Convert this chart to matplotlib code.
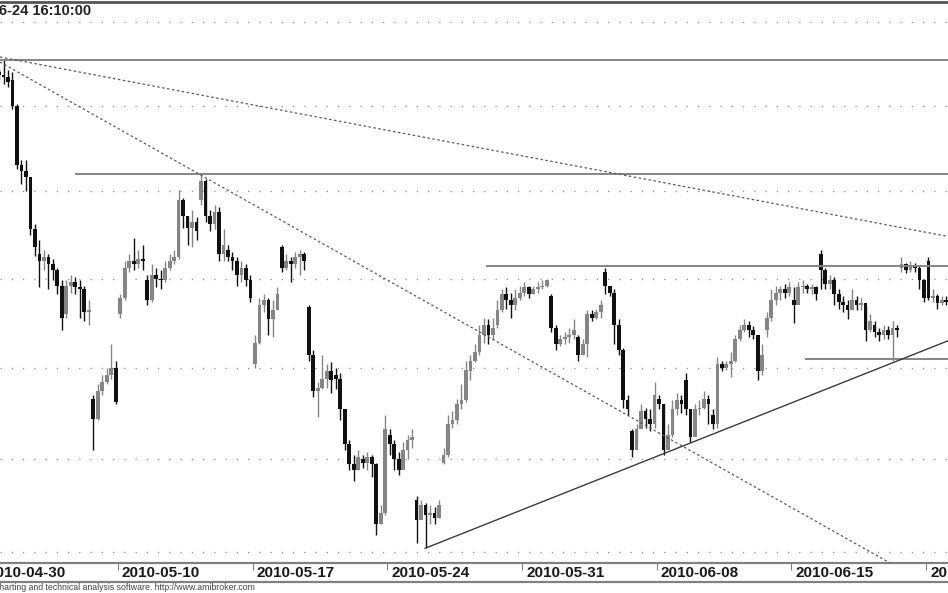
import numpy as np
import matplotlib
matplotlib.use('Agg')
import matplotlib.pyplot as plt
from matplotlib.lines import Line2D
from matplotlib.ticker import NullLocator, FixedLocator
import matplotlib.transforms as mtransforms

plt.rcParams['font.family'] = ['Liberation Sans', 'DejaVu Sans']

# trading days shown on the chart (6 bars per day)
days = ['2010-04-30', '2010-05-04', '2010-05-05', '2010-05-06', '2010-05-07',
        '2010-05-10', '2010-05-11', '2010-05-12', '2010-05-13', '2010-05-14',
        '2010-05-17', '2010-05-18', '2010-05-19', '2010-05-20', '2010-05-21',
        '2010-05-24', '2010-05-25', '2010-05-26', '2010-05-27', '2010-05-28',
        '2010-05-31', '2010-06-01', '2010-06-02', '2010-06-04', '2010-06-07',
        '2010-06-08', '2010-06-09', '2010-06-10', '2010-06-11', '2010-06-14',
        '2010-06-15', '2010-06-16', '2010-06-17', '2010-06-18', '2010-06-21',
        '2010-06-22']
label_days = [0, 5, 10, 15, 20, 25, 30, 35]

day_open = [2462, 2465, 2364, 2330, 2283, 2330, 2349, 2360, 2395, 2366,
            2302, 2368, 2334, 2296, 2250, 2263, 2228, 2248, 2298, 2324,
            2342, 2340, 2317, 2354, 2265, 2283, 2293, 2274, 2316, 2321,
            2338, 2364, 2335, 2324, 2356, 2360]

closes = [
    [2465, 2468, 2470, 2468, 2467, 2464],
    [2450, 2415, 2412, 2408, 2378, 2368],
    [2360, 2362, 2358, 2355, 2346, 2328],
    [2346, 2348, 2345, 2344, 2331, 2332],
    [2272, 2287, 2292, 2296, 2300, 2281],
    [2339, 2356, 2360, 2358, 2361, 2360],
    [2338, 2352, 2350, 2349, 2356, 2360],
    [2362, 2395, 2386, 2379, 2382, 2377],
    [2406, 2386, 2381, 2388, 2364, 2369],
    [2362, 2360, 2352, 2356, 2349, 2339],
    [2314, 2335, 2338, 2327, 2332, 2341],
    [2356, 2360, 2358, 2362, 2364, 2360],
    [2307, 2287, 2289, 2294, 2298, 2293],
    [2294, 2277, 2258, 2247, 2244, 2251],
    [2248, 2251, 2247, 2215, 2221, 2266],
    [2258, 2250, 2244, 2255, 2260, 2262],
    [2217, 2225, 2220, 2221, 2218, 2225],
    [2252, 2269, 2271, 2280, 2282, 2299],
    [2304, 2309, 2318, 2324, 2318, 2322],
    [2332, 2341, 2338, 2335, 2339, 2342],
    [2345, 2341, 2344, 2345, 2346, 2349],
    [2322, 2313, 2316, 2317, 2318, 2321],
    [2307, 2313, 2330, 2328, 2331, 2335],
    [2346, 2342, 2324, 2310, 2282, 2277],
    [2255, 2266, 2276, 2272, 2269, 2285],
    [2280, 2255, 2263, 2277, 2282, 2280],
    [2277, 2262, 2277, 2278, 2283, 2280],
    [2269, 2302, 2300, 2302, 2304, 2316],
    [2321, 2324, 2321, 2318, 2298, 2307],
    [2328, 2338, 2342, 2344, 2342, 2345],
    [2335, 2345, 2346, 2344, 2345, 2341],
    [2355, 2347, 2349, 2341, 2337, 2335],
    [2332, 2338, 2335, 2336, 2321, 2326],
    [2320, 2318, 2321, 2318, 2322, 2321],
    [2358, 2355, 2357, 2356, 2349, 2339],
    [2339, 2340, 2336, 2338, 2337, 2338],
]

highs = [
    [2468, 2471, 2474, 2472, 2477, 2471],
    [2470, 2451, 2418, 2418, 2404, 2381],
    [2372, 2366, 2364, 2361, 2356, 2349],
    [2349, 2352, 2351, 2349, 2346, 2338],
    [2285, 2291, 2296, 2300, 2313, 2304],
    [2341, 2360, 2364, 2373, 2366, 2369],
    [2352, 2358, 2356, 2355, 2360, 2364],
    [2366, 2401, 2396, 2386, 2389, 2385],
    [2410, 2407, 2389, 2392, 2391, 2378],
    [2369, 2365, 2362, 2360, 2358, 2352],
    [2318, 2339, 2341, 2339, 2338, 2345],
    [2369, 2364, 2362, 2365, 2366, 2365],
    [2335, 2310, 2292, 2307, 2302, 2303],
    [2300, 2297, 2277, 2260, 2252, 2255],
    [2252, 2254, 2252, 2248, 2225, 2274],
    [2266, 2260, 2254, 2259, 2263, 2266],
    [2230, 2228, 2226, 2225, 2224, 2228],
    [2256, 2274, 2276, 2283, 2291, 2304],
    [2307, 2313, 2324, 2328, 2327, 2328],
    [2338, 2344, 2345, 2342, 2344, 2346],
    [2348, 2346, 2346, 2348, 2349, 2350],
    [2341, 2324, 2318, 2320, 2322, 2327],
    [2318, 2316, 2332, 2332, 2333, 2338],
    [2356, 2346, 2344, 2327, 2311, 2285],
    [2266, 2269, 2280, 2278, 2277, 2292],
    [2285, 2280, 2269, 2282, 2286, 2285],
    [2297, 2277, 2280, 2282, 2287, 2285],
    [2277, 2306, 2304, 2304, 2309, 2318],
    [2324, 2327, 2326, 2323, 2318, 2313],
    [2331, 2344, 2346, 2346, 2347, 2348],
    [2345, 2348, 2349, 2347, 2347, 2346],
    [2366, 2356, 2352, 2351, 2344, 2340],
    [2338, 2344, 2340, 2339, 2335, 2330],
    [2326, 2322, 2324, 2323, 2326, 2324],
    [2362, 2359, 2360, 2359, 2357, 2350],
    [2362, 2344, 2341, 2340, 2340, 2341],
]

lows = [
    [2460, 2464, 2466, 2465, 2463, 2461],
    [2448, 2413, 2404, 2400, 2375, 2363],
    [2345, 2355, 2344, 2349, 2341, 2321],
    [2328, 2342, 2341, 2328, 2326, 2324],
    [2255, 2271, 2285, 2291, 2294, 2280],
    [2328, 2338, 2354, 2355, 2356, 2355],
    [2335, 2337, 2345, 2344, 2348, 2355],
    [2358, 2361, 2379, 2369, 2368, 2372],
    [2392, 2382, 2377, 2378, 2360, 2360],
    [2360, 2355, 2346, 2348, 2346, 2337],
    [2300, 2313, 2331, 2318, 2317, 2335],
    [2354, 2355, 2348, 2356, 2352, 2355],
    [2304, 2284, 2273, 2288, 2289, 2286],
    [2288, 2271, 2255, 2244, 2238, 2244],
    [2245, 2244, 2240, 2209, 2215, 2220],
    [2252, 2244, 2241, 2247, 2250, 2256],
    [2205, 2220, 2202, 2215, 2215, 2218],
    [2247, 2251, 2267, 2269, 2277, 2281],
    [2293, 2303, 2307, 2314, 2313, 2316],
    [2322, 2331, 2333, 2328, 2332, 2338],
    [2340, 2339, 2341, 2342, 2344, 2345],
    [2320, 2310, 2312, 2313, 2314, 2316],
    [2304, 2309, 2306, 2326, 2327, 2328],
    [2341, 2340, 2313, 2307, 2278, 2274],
    [2251, 2258, 2270, 2267, 2265, 2267],
    [2277, 2252, 2259, 2262, 2274, 2275],
    [2274, 2259, 2271, 2274, 2277, 2269],
    [2266, 2267, 2298, 2299, 2295, 2303],
    [2315, 2320, 2317, 2316, 2293, 2296],
    [2317, 2326, 2335, 2338, 2339, 2340],
    [2325, 2338, 2342, 2342, 2341, 2338],
    [2344, 2344, 2344, 2335, 2333, 2331],
    [2327, 2336, 2332, 2332, 2315, 2320],
    [2317, 2315, 2316, 2316, 2304, 2317],
    [2354, 2353, 2354, 2354, 2344, 2337],
    [2338, 2337, 2333, 2335, 2335, 2335],
]

# drawn studies: horizontal levels, dotted resistance lines, support line
h_levels = [2477, 2410, 2357, 2305]
h_start = [0.62, 3.40, 18.66, 30.50]
res_a = ([0.62, 35.81], [2479, 2374])
res_b = ([0.62, 35.81], [2476, 2177])
support = ([16.40, 35.81], [2202, 2315])

grid_levels = [2200, 2250, 2300, 2350, 2400, 2450, 2500]

W, H = 948, 593
fig = plt.figure(figsize=(W / 100, H / 100), dpi=100)
fig.patch.set_facecolor('white')
ax = fig.add_axes([0, (H - 563) / H, 1, (563 - 2) / H])
ax.set_yscale('log')

# candles
xs, op, cl, hi, lo = [], [], [], [], []
for k in range(len(days)):
    prev = day_open[k]
    for i in range(6):
        xs.append(k + (i + 0.5) / 6)
        op.append(prev)
        cl.append(closes[k][i])
        hi.append(highs[k][i])
        lo.append(lows[k][i])
        prev = closes[k][i]
xs = np.array(xs)
op = np.array(op, dtype=float)
cl = np.array(cl, dtype=float)
hi = np.array(hi, dtype=float)
lo = np.array(lo, dtype=float)
down = cl < op
cols = np.where(down, '#111111', '#858585')

ax.vlines(xs, lo, hi, colors=cols, linewidth=1.0, zorder=3)
body_bot = np.minimum(op, cl)
body_h = np.maximum(np.abs(cl - op), 0.6)
ax.bar(xs, body_h, bottom=body_bot, width=0.14, color=cols, linewidth=0, zorder=4)

# gridlines
ax.yaxis.set_major_locator(FixedLocator(grid_levels))
ax.yaxis.set_minor_locator(NullLocator())
ax.yaxis.grid(True, linestyle=(0, (1, 8)), color='#8c8c8c', linewidth=0.9)
ax.tick_params(axis='y', which='both', left=False, labelleft=False)

# studies
ax.hlines(h_levels, h_start, 35.81, colors='#858585', linewidth=1.4, zorder=5)
ax.plot(res_a[0], res_a[1], color='#5a5a5a', linestyle=(0, (2, 2)), linewidth=0.9, zorder=5)
ax.plot(res_b[0], res_b[1], color='#5a5a5a', linestyle=(0, (2, 2)), linewidth=0.9, zorder=5)
ax.plot(support[0], support[1], color='#3c3c3c', linewidth=1.0, zorder=5)

# date axis
ax.set_xticks(label_days)
ax.set_xticklabels([])
ax.tick_params(axis='x', length=5, width=0.7, color='#777777', direction='out')
ax.set_xlim(0.62, 35.81)
ax.set_ylim(2194.2, 2512.1)
trans = mtransforms.blended_transform_factory(ax.transData, ax.transAxes)
trans = mtransforms.offset_copy(trans, fig=fig, x=4, y=-10, units='dots')
for k in label_days:
    ax.text(k, 0, days[k], transform=trans, ha='left', va='center',
            fontsize=11, fontweight='bold', color='#1a1a1a', clip_on=False)

for s in ['left', 'right']:
    ax.spines[s].set_visible(False)
ax.spines['top'].set_color('#555555')
ax.spines['top'].set_linewidth(2)
ax.spines['bottom'].set_color('#808080')
ax.spines['bottom'].set_linewidth(1.6)

fig.add_artist(Line2D([0, 1], [(H - 582) / H] * 2, color='#808080', linewidth=1.6,
                      transform=fig.transFigure))

fig.text(91 / W, 1 - 11 / H, '2010-06-24 16:10:00', ha='right', va='center',
         fontsize=10.5, fontweight='bold', color='#222222')
fig.text(255 / W, 1 - 588 / H,
         'AmiBroker - charting and technical analysis software. http://www.amibroker.com',
         ha='right', va='center', fontsize=6.3, color='#444444')

fig.savefig('out.png', dpi=100, facecolor='white')
